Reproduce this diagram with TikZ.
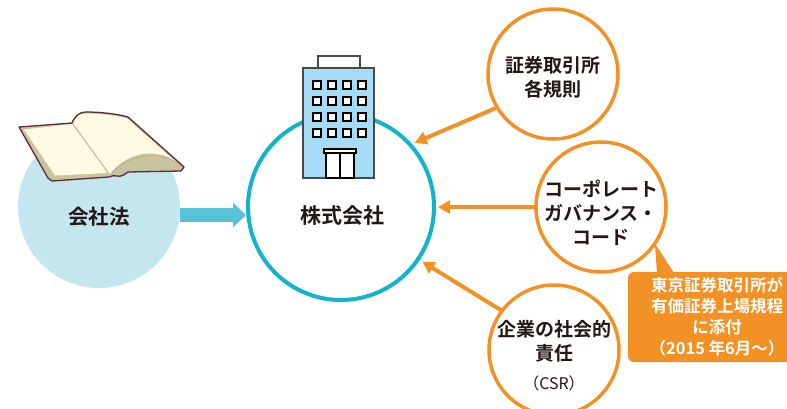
\documentclass[tikz,border=0pt]{standalone}
\usepackage{fontspec}
\newfontfamily\jpfont{Noto Sans CJK JP}[BoldFont={Noto Sans CJK JP Bold}]
\usetikzlibrary{arrows.meta,calc}

\definecolor{ink}{HTML}{231815}
\definecolor{teal}{HTML}{12B4CA}
\definecolor{lawblue}{HTML}{C4E6EF}
\definecolor{flowcyan}{HTML}{56C4D6}
\definecolor{orng}{HTML}{F39125}
\definecolor{bldgblue}{HTML}{A6DCF6}
\definecolor{bldgline}{HTML}{4A4A4A}
\definecolor{cream}{HTML}{FFFBE3}
\definecolor{tan}{HTML}{C9C3A0}
\definecolor{maroon}{HTML}{5E2B3A}
\definecolor{spine}{HTML}{B5B08F}

\tikzset{
  lbl/.style={font=\jpfont\bfseries\fontsize{19}{24}\selectfont, text=ink, align=center, inner sep=0pt},
  mainlbl/.style={font=\jpfont\bfseries\fontsize{21}{25}\selectfont, text=ink, inner sep=0pt},
  csrlbl/.style={font=\jpfont\fontsize{16}{18}\selectfont, text=ink, inner sep=0pt},
  maincirc/.style={circle, draw=teal, line width=4pt, fill=white, minimum size=186pt, inner sep=0pt, outer sep=0pt},
  lawcirc/.style={circle, fill=lawblue, minimum size=162pt, inner sep=0pt, outer sep=0pt},
  ocirc/.style={circle, draw=orng, line width=3.5pt, fill=white, minimum size=130pt, inner sep=0pt, outer sep=0pt},
  oarrow/.style={draw=orng, line width=4pt, -{Triangle[length=12pt,width=13pt]}},
  fatarrow/.style={draw=flowcyan, line width=14pt, -{Triangle[length=13pt,width=24pt]}},
  notebox/.style={rectangle, rounded corners=6pt, fill=orng, minimum width=178pt, minimum height=90pt,
    inner sep=0pt, outer sep=0pt, align=center, text=white,
    font=\jpfont\bfseries\fontsize{16.5}{21}\selectfont},
  bldg/.style={draw=bldgline, line width=1.3pt, fill=bldgblue},
  win/.style={draw=black, line width=1.3pt, fill=white},
}

\begin{document}
\begin{tikzpicture}[x=1pt,y=-1pt]
\useasboundingbox (0,0) rectangle (787,408);
\clip (0,0) rectangle (787,408);

% company circle
\node[maincirc] (main) at (341,207) {};

% office building
\draw[bldg, fill=white] (318,56) rectangle (360,68);
\draw[bldg] (303,68) rectangle (374,178);
\foreach \i in {0,...,3}
  \foreach \j in {0,...,3}
    \draw[win] (313+15*\i, 81+16*\j) rectangle ++(8,8);
\draw[draw=black, line width=1.2pt, fill=white] (324,149) rectangle (356,153);
\draw[draw=black, line width=2pt, fill=white] (326,153) rectangle (354,178);
\draw[draw=black, line width=1.2pt] (340,153) -- (340,178);

\node[mainlbl] (maintxt) at (342,216) {株式会社};

% company law circle and book
\node[lawcirc] (law) at (99,207) {};
\node[mainlbl, font=\jpfont\bfseries\fontsize{20.5}{25}\selectfont] (lawtxt) at (99,217) {会社法};

\begin{scope}[line join=round]
  % book silhouette (page block)
  \filldraw[fill=tan, draw=maroon, line width=1.3pt]
    (19,127) -- (72,123)
    .. controls (75,116) and (79,112) .. (86,112)
    .. controls (100,112) and (118,114) .. (128,117)
    -- (184,167) -- (181,171) -- (128,172)
    .. controls (124,175) and (121,177) .. (117,176)
    .. controls (114,175) and (112,176) .. (109,177)
    -- (52,181) -- (48,178) -- cycle;
  % left page
  \fill[cream] (24,129.5) -- (72,124) -- (109,173) -- (55,175.5) -- cycle;
  % right page
  \fill[cream] (73,124)
    .. controls (76,116) and (80,113.5) .. (86,113.5)
    .. controls (100,113.5) and (117,115.5) .. (127,118.5)
    -- (175,161)
    .. controls (158,149) and (128,150) .. (110,174) -- cycle;
  % curled page edges
  \draw[spine, line width=0.7pt] (112,173) .. controls (130,153) and (160,151) .. (178,164);
  \draw[spine, line width=0.8pt] (73,124) -- (109,174);
\end{scope}

% flow from company law
\draw[fatarrow] ($(law.east)+(0,8)$) -- ($(main.west)+(-2,8)$);

% related rules
\node[ocirc] (c1) at (553,74) {};
\node[lbl] (c1txt) at (553,77.5) {証券取引所\\各規則};

\node[ocirc] (c2) at (601,207) {};
\node[lbl] (c2txt) at (601,213) {コーポレート\\ガバナンス・\\コード};

\node[ocirc] (c3) at (554,350) {};
\node[lbl] (c3txt) at (554,341) {企業の社会的\\責任};
\node[csrlbl] (csr) at (554,383) {（CSR）};

\draw[oarrow, shorten >=5pt] (c1.211) -- (main.42);
\draw[oarrow, shorten >=4pt] (c2.west) -- (main.east);
\draw[oarrow, shorten >=5pt] (c3.143) -- (main.-34);

% note on the governance code
\node[notebox] (note) at (717,317) {東京証券取引所が\\有価証券上場規程\\に添付\\（2015 年6月〜）};
\fill[orng] (c2.-34) -- ($(note.north west)+(29,1)$) -- ($(note.north west)+(46,1)$) -- cycle;

\end{tikzpicture}
\end{document}
